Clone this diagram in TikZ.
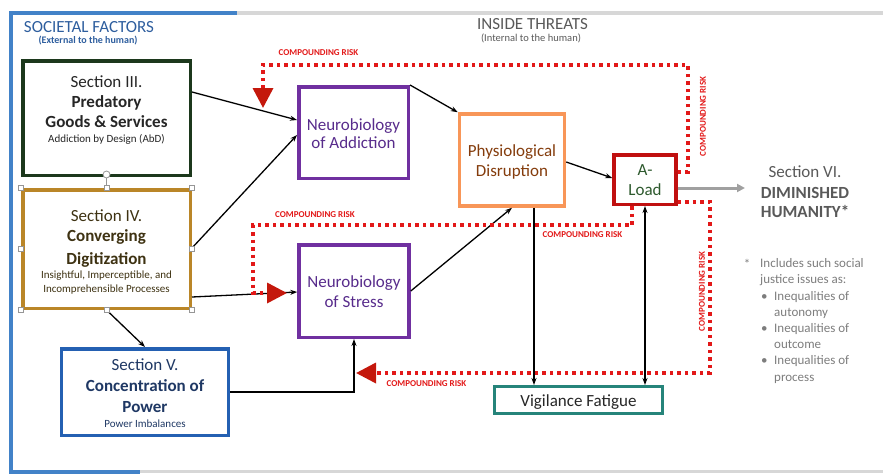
\documentclass[tikz,border=0pt]{standalone}
\usepackage{fontspec}
\setmainfont{Carlito}
\usetikzlibrary{arrows.meta}

% palette
\definecolor{frameblue}{RGB}{66,130,200}
\definecolor{framegray}{RGB}{215,215,215}
\definecolor{headblue}{RGB}{46,94,158}
\definecolor{headgray}{RGB}{89,89,89}
\definecolor{notegray}{RGB}{125,125,125}
\definecolor{inkdark}{RGB}{38,38,38}
\definecolor{greenbox}{RGB}{28,56,28}
\definecolor{goldbox}{RGB}{186,134,40}
\definecolor{goldtext}{RGB}{62,50,18}
\definecolor{bluebox}{RGB}{36,96,178}
\definecolor{bluetext}{RGB}{31,56,100}
\definecolor{purplebox}{RGB}{112,48,160}
\definecolor{purpletext}{RGB}{88,44,140}
\definecolor{orangebox}{RGB}{248,150,88}
\definecolor{orangetext}{RGB}{132,60,12}
\definecolor{redbox}{RGB}{192,16,16}
\definecolor{loadtext}{RGB}{46,90,46}
\definecolor{tealbox}{RGB}{38,132,122}
\definecolor{riskred}{RGB}{226,24,24}
\definecolor{headred}{RGB}{196,24,12}
\definecolor{arrowgray}{RGB}{160,160,160}
\definecolor{handlegray}{RGB}{150,150,150}

\begin{document}
\begin{tikzpicture}[x=1pt,y=-1pt,
  box/.style={draw,line width=3.5pt,inner sep=0pt,fill=white},
  txt/.style={anchor=base,inner sep=0pt},
  big/.style={txt,font=\fontsize{17}{20}\selectfont},
  bigb/.style={txt,font=\fontsize{17}{20}\selectfont\bfseries},
  small/.style={txt,font=\fontsize{11}{13}\selectfont},
  flow/.style={-{Stealth[length=7pt,width=5pt]},line width=1.3pt,black},
  riskline/.style={riskred,line width=3.5pt,dash pattern=on 3.5pt off 4pt},
  risk/.style={riskline,-{Triangle[length=20pt,width=20pt,color=headred]}},
  risklbl/.style={riskred,font=\fontsize{9}{10}\selectfont\bfseries,inner sep=0pt},
  handle/.style={draw=handlegray,fill=white,line width=0.6pt,minimum size=5pt,inner sep=0pt}
]
\useasboundingbox (0,0) rectangle (883,474);

% outer frame
\draw[framegray,line width=3.5pt] (235,13) -- (883,13);
\draw[framegray,line width=2.5pt] (140,471.5) -- (883,471.5);
\draw[frameblue,line width=4pt] (237,13) -- (11,13) -- (11,471.5) -- (140,471.5);

% headings
\node[txt,font=\fontsize{17}{20}\selectfont,text=headblue] (hsoc) at (89,32.5) {SOCIETAL FACTORS};
\node[txt,font=\fontsize{10}{12}\selectfont\bfseries,text=headblue] (hsocsub) at (88,43.5) {(External to the human)};
\node[txt,font=\fontsize{17}{20}\selectfont,text=headgray] (hin) at (532.5,29.5) {INSIDE THREATS};
\node[txt,font=\fontsize{10.5}{12}\selectfont,text=headgray] (hinsub) at (531,41) {(Internal to the human)};

% boxes
\node[box,draw=greenbox,minimum width=167.5pt,minimum height=114.5pt] (s3) at (106.5,118) {};
\node[box,draw=goldbox,minimum width=167.5pt,minimum height=118.5pt] (s4) at (106.5,249) {};
\node[box,draw=bluebox,minimum width=167pt,minimum height=86.5pt] (s5) at (145,392) {};
\node[box,draw=purplebox,minimum width=109.5pt,minimum height=91.5pt] (na) at (353.5,132.5) {};
\node[box,draw=purplebox,minimum width=110pt,minimum height=92.5pt] (ns) at (354,291) {};
\node[box,draw=orangebox,minimum width=105pt,minimum height=92pt] (pd) at (512,160) {};
\node[box,draw=redbox,minimum width=62pt,minimum height=49.5pt] (al) at (645,179.5) {};
\node[box,draw=tealbox,line width=3pt,minimum width=168pt,minimum height=27pt] (vf) at (578.5,400) {};

% box texts
\begin{scope}[every node/.append style={text=inkdark}]
\node[big]  (s3a) at (106.5,87)    {Section III.};
\node[bigb] (s3b) at (106.5,107)   {Predatory};
\node[bigb] (s3c) at (106.5,127.5) {Goods \& Services};
\node[small](s3d) at (106.5,142.5) {Addiction by Design (AbD)};
\end{scope}
\begin{scope}[every node/.append style={text=goldtext}]
\node[big]  (s4a) at (106.5,221) {Section IV.};
\node[bigb] (s4b) at (106.5,241) {Converging};
\node[bigb] (s4c) at (106.5,264) {Digitization};
\node[small](s4d) at (106.5,278) {Insightful, Imperceptible, and};
\node[small](s4e) at (106.5,292) {Incomprehensible Processes};
\end{scope}
\begin{scope}[every node/.append style={text=bluetext}]
\node[big]  (s5a) at (145,370) {Section V.};
\node[bigb] (s5b) at (145,391) {Concentration of};
\node[bigb] (s5c) at (145,412) {Power};
\node[small](s5d) at (145,427) {Power Imbalances};
\end{scope}
\begin{scope}[every node/.append style={text=purpletext}]
\node[big] (naa) at (353.5,130) {Neurobiology};
\node[big] (nab) at (353.5,148) {of Addiction};
\node[big] (nsa) at (354,287) {Neurobiology};
\node[big] (nsb) at (354,307) {of Stress};
\end{scope}
\node[big,text=orangetext] (pda) at (512,156) {Physiological};
\node[big,text=orangetext] (pdb) at (512,176) {Disruption};
\node[big,text=loadtext] (ala) at (645,175) {A-};
\node[big,text=loadtext] (alb) at (645,195) {Load};
\node[big,text=inkdark] (vfa) at (578.5,406) {Vigilance Fatigue};

% outcome and note
\node[big,text=headgray] (s6a) at (805,177) {Section VI.};
\node[bigb,text=headgray] (s6b) at (805,198) {DIMINISHED};
\node[bigb,text=headgray] (s6c) at (805,217) {HUMANITY*};
\coordinate (s6in) at (745,188);
\node[txt,font=\fontsize{13}{16}\selectfont,text=notegray] (star) at (747,268) {*};
\node[inner sep=0pt,anchor=north west,align=left,font=\fontsize{13}{16.2}\selectfont,text=notegray] (note) at (760,258.5)
  {Includes such social\\
   justice issues as:\\
   \hspace*{1pt}\makebox[13pt][l]{\textbullet}Inequalities of\\
   \hspace*{14pt}autonomy\\
   \hspace*{1pt}\makebox[13pt][l]{\textbullet}Inequalities of\\
   \hspace*{14pt}outcome\\
   \hspace*{1pt}\makebox[13pt][l]{\textbullet}Inequalities of\\
   \hspace*{14pt}process};

% causal arrows
\draw[flow] (s3.east |- 0,92) -- (na.west |- 0,120);
\draw[flow] (s4.east |- 0,248) -- (na.west |- 0,135);
\draw[flow] (s4.east |- 0,297) -- (ns.west |- 0,292);
\draw[flow] (s4.south) -- (s5.north);
\draw[flow] (s5.east) -| (ns.south);
\draw[flow] (na.north east) -- (pd.north west);
\draw[flow] (ns.east) -- (pd.south);
\draw[flow] (pd.east |- 0,162) -- (al.west |- 0,178);
\draw[arrowgray,line width=3pt,-{Triangle[length=8pt,width=8pt]}] (al.east |- 0,188) -- (s6in);

% compounding-risk loops
\coordinate (topend) at (263,108);
\coordinate (midend) at (287,293);
\coordinate (botend) at (356,373);
\draw[risk] (al.east |- 0,172) -| (688,65) -| (topend);
\draw[risk] (al.south -| 632,0) |- (253,225) |- (midend);
\draw[risk] (al.east |- 0,202) -| (710,373) -- (botend);

\node[risklbl] (r1) at (318.5,53) {COMPOUNDING RISK};
\node[risklbl,rotate=90] (r2) at (703,116.5) {COMPOUNDING RISK};
\node[risklbl] (r3) at (315,215) {COMPOUNDING RISK};
\node[risklbl] (r4) at (582.5,235) {COMPOUNDING RISK};
\node[risklbl,rotate=90] (r5) at (702,291.5) {COMPOUNDING RISK};
\node[risklbl] (r6) at (426.5,384) {COMPOUNDING RISK};

% links into vigilance fatigue
\draw[flow] (pd.south -| 534,0) -- (vf.north -| 534,0);
\draw[flow,{Stealth[length=7pt,width=5pt]}-{Stealth[length=7pt,width=5pt]}] (al.south) -- (al.south |- vf.north);

% selection handles on the digitization box
\node[draw=handlegray,fill=white,line width=0.8pt,circle,minimum size=7pt,inner sep=0pt] (rot) at (106.5,174.5) {};
\foreach \a [count=\i] in {north west,north,north east,east,south east,south,south west,west}
  \node[handle] (hd\i) at (s4.\a) {};
\draw[handlegray,line width=0.6pt] (rot) -- (hd2);
\end{tikzpicture}
\end{document}
